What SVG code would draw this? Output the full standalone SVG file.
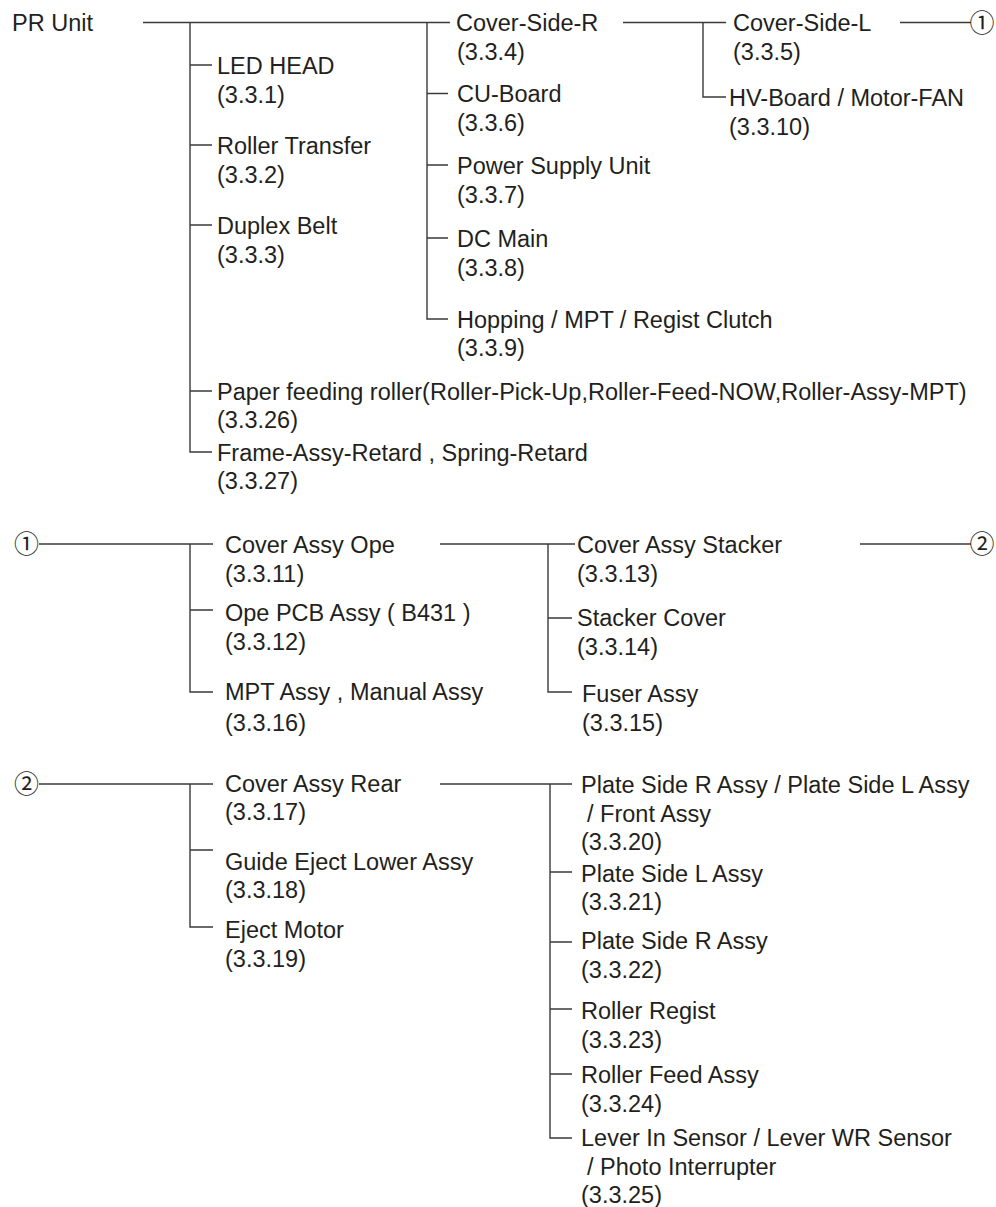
<svg xmlns="http://www.w3.org/2000/svg" width="996" height="1207" viewBox="0 0 996 1207">
<style>
.t{font-family:"Liberation Sans",Arial,sans-serif;font-size:23.5px;fill:#231f20}
.c{font-family:"Noto Sans CJK JP","DejaVu Sans",sans-serif;font-size:25px;fill:#231f20;text-anchor:middle}
.ln{stroke:#3a3a3a;stroke-width:1.4;fill:none}
</style>
<rect width="996" height="1207" fill="#ffffff"/>
<g id="connectors" class="ln">
<path d="M143 22.5H450M190 22.5V452H212M190 65H212M190 145H212M190 225H212M190 391H212"/>
<path d="M427 22.5V319H448M427 93.5H448M427 165H448M427 238H448"/>
<path d="M623 22.5H726M703 22.5V97H726M900 22.5H971"/>
<path d="M39 544H213M190 544V692H213M190 610H213M440 544H575M548 544V692H572M548 618H572M860 544H971"/>
<path d="M39 784H213M190 784V927H213M190 850H213M440 784H572M550 784V1138H572M550 872H572M550 942H572M550 1009H572M550 1074H572"/>
</g>
<g id="pr-unit"><text class="t" x="12" y="31">PR Unit</text></g>
<g id="led-head"><text class="t" x="217" y="73.5">LED HEAD</text><text class="t" x="217" y="103">(3.3.1)</text></g>
<g id="roller-transfer"><text class="t" x="217" y="153.5">Roller Transfer</text><text class="t" x="217" y="183">(3.3.2)</text></g>
<g id="duplex-belt"><text class="t" x="217" y="233.5">Duplex Belt</text><text class="t" x="217" y="263">(3.3.3)</text></g>
<g id="paper-feeding"><text class="t" x="217" y="399.5">Paper feeding roller(Roller-Pick-Up,Roller-Feed-NOW,Roller-Assy-MPT)</text><text class="t" x="217" y="428">(3.3.26)</text></g>
<g id="frame-assy"><text class="t" x="217" y="460.5">Frame-Assy-Retard , Spring-Retard</text><text class="t" x="217" y="489">(3.3.27)</text></g>
<g id="cover-side-r"><text class="t" x="456" y="31">Cover-Side-R</text><text class="t" x="457" y="60">(3.3.4)</text></g>
<g id="cu-board"><text class="t" x="457" y="102">CU-Board</text><text class="t" x="457" y="131">(3.3.6)</text></g>
<g id="power-supply"><text class="t" x="457" y="173.5">Power Supply Unit</text><text class="t" x="457" y="202.5">(3.3.7)</text></g>
<g id="dc-main"><text class="t" x="457" y="246.5">DC Main</text><text class="t" x="457" y="276">(3.3.8)</text></g>
<g id="hopping"><text class="t" x="457" y="327.5">Hopping / MPT / Regist Clutch</text><text class="t" x="457" y="356">(3.3.9)</text></g>
<g id="cover-side-l"><text class="t" x="733" y="31">Cover-Side-L</text><text class="t" x="733" y="60">(3.3.5)</text></g>
<g id="hv-board"><text class="t" x="729" y="105.5">HV-Board / Motor-FAN</text><text class="t" x="729" y="135">(3.3.10)</text></g>
<g id="ref1-out"><text class="c" x="982" y="31.5">①</text></g>
<g id="ref1-in"><text class="c" x="26.5" y="553">①</text></g>
<g id="cover-assy-ope"><text class="t" x="225" y="552.5">Cover Assy Ope</text><text class="t" x="225" y="582">(3.3.11)</text></g>
<g id="ope-pcb"><text class="t" x="225" y="621">Ope PCB Assy ( B431 )</text><text class="t" x="225" y="650">(3.3.12)</text></g>
<g id="mpt-assy"><text class="t" x="225" y="700">MPT Assy , Manual Assy</text><text class="t" x="225" y="731">(3.3.16)</text></g>
<g id="cover-assy-stacker"><text class="t" x="577" y="552.5">Cover Assy Stacker</text><text class="t" x="577" y="582">(3.3.13)</text></g>
<g id="stacker-cover"><text class="t" x="577" y="626">Stacker Cover</text><text class="t" x="577" y="655">(3.3.14)</text></g>
<g id="fuser-assy"><text class="t" x="582" y="702">Fuser Assy</text><text class="t" x="582" y="731">(3.3.15)</text></g>
<g id="ref2-out"><text class="c" x="982" y="553">②</text></g>
<g id="ref2-in"><text class="c" x="26.5" y="793">②</text></g>
<g id="cover-assy-rear"><text class="t" x="225" y="792">Cover Assy Rear</text><text class="t" x="225" y="820">(3.3.17)</text></g>
<g id="guide-eject"><text class="t" x="225" y="870">Guide Eject Lower Assy</text><text class="t" x="225" y="898">(3.3.18)</text></g>
<g id="eject-motor"><text class="t" x="225" y="938">Eject Motor</text><text class="t" x="225" y="967">(3.3.19)</text></g>
<g id="plate-front"><text class="t" x="581" y="793">Plate Side R Assy / Plate Side L Assy</text><text class="t" x="587" y="822">/ Front Assy</text><text class="t" x="581" y="850">(3.3.20)</text></g>
<g id="plate-l"><text class="t" x="581" y="881.5">Plate Side L Assy</text><text class="t" x="581" y="910">(3.3.21)</text></g>
<g id="plate-r"><text class="t" x="581" y="949">Plate Side R Assy</text><text class="t" x="581" y="978">(3.3.22)</text></g>
<g id="roller-regist"><text class="t" x="581" y="1019">Roller Regist</text><text class="t" x="581" y="1048">(3.3.23)</text></g>
<g id="roller-feed"><text class="t" x="581" y="1083">Roller Feed Assy</text><text class="t" x="581" y="1112">(3.3.24)</text></g>
<g id="lever-sensor"><text class="t" x="581" y="1146">Lever In Sensor / Lever WR Sensor</text><text class="t" x="587" y="1175">/ Photo Interrupter</text><text class="t" x="581" y="1203">(3.3.25)</text></g>
</svg>
